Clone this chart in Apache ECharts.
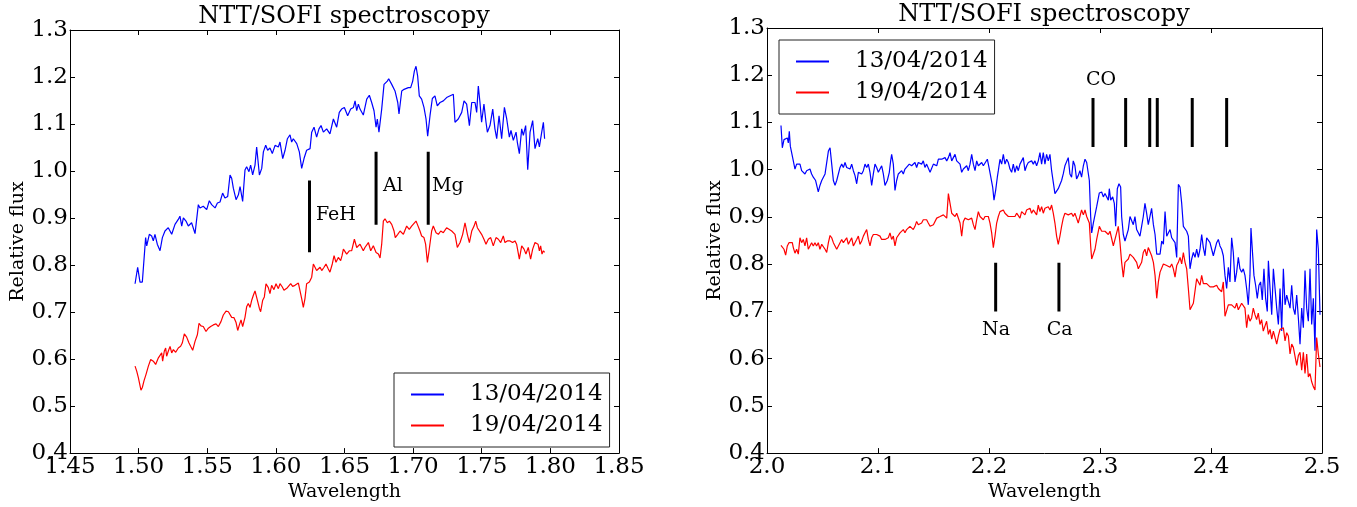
<!DOCTYPE html>
<html><head><meta charset="utf-8">
<script src="https://cdn.jsdelivr.net/npm/echarts@6/dist/echarts.min.js"></script>
<style>html,body{margin:0;padding:0;background:#fff}#c{width:1357px;height:507px}</style>
</head><body><div id="c"></div>
<script>
const seriesNames = ['13/04/2014', '19/04/2014'];
const chartTitle = 'NTT/SOFI spectroscopy';
const xName = 'Wavelength';
const yName = 'Relative flux';

// Left panel (H band)
const leftBlue = [[1.4974,0.7603],[1.4993,0.7953],[1.5010,0.7638],[1.5027,0.7638],[1.5051,0.8584],[1.5059,0.8409],[1.5078,0.8654],[1.5095,0.8619],[1.5107,0.8514],[1.5119,0.8654],[1.5136,0.8444],[1.5156,0.8304],[1.5173,0.8584],[1.5192,0.8724],[1.5216,0.8795],[1.5241,0.8654],[1.5265,0.8865],[1.5289,0.8970],[1.5301,0.9040],[1.5314,0.8830],[1.5326,0.9005],[1.5345,0.8935],[1.5362,0.8830],[1.5386,0.8900],[1.5411,0.8668],[1.5435,0.9285],[1.5447,0.9215],[1.5471,0.9250],[1.5496,0.9180],[1.5515,0.9369],[1.5532,0.9285],[1.5557,0.9215],[1.5574,0.9320],[1.5593,0.9341],[1.5612,0.9530],[1.5629,0.9425],[1.5649,0.9460],[1.5666,0.9916],[1.5678,0.9846],[1.5690,0.9636],[1.5710,0.9390],[1.5727,0.9495],[1.5739,0.9671],[1.5758,0.9355],[1.5775,1.0021],[1.5787,1.0091],[1.5804,0.9986],[1.5816,1.0126],[1.5831,0.9916],[1.5848,1.0126],[1.5860,1.0512],[1.5880,0.9916],[1.5897,1.0056],[1.5909,1.0407],[1.5926,1.0547],[1.5940,1.0442],[1.5957,1.0491],[1.5974,1.0371],[1.5994,1.0547],[1.6018,1.0512],[1.6030,1.0617],[1.6050,1.0266],[1.6067,1.0442],[1.6084,1.0687],[1.6103,1.0771],[1.6115,1.0617],[1.6127,1.0687],[1.6152,1.0582],[1.6171,1.0407],[1.6188,1.0056],[1.6205,1.0266],[1.6224,1.0442],[1.6249,1.0477],[1.6261,1.0827],[1.6278,1.0932],[1.6297,1.0722],[1.6314,1.0897],[1.6329,1.0967],[1.6346,1.0827],[1.6370,1.0897],[1.6394,1.0792],[1.6419,1.1107],[1.6443,1.0932],[1.6462,1.1248],[1.6479,1.1318],[1.6499,1.1353],[1.6523,1.1177],[1.6545,1.1318],[1.6565,1.1353],[1.6577,1.1493],[1.6589,1.1283],[1.6601,1.1423],[1.6613,1.1318],[1.6637,1.1191],[1.6662,1.1528],[1.6681,1.1612],[1.6698,1.1458],[1.6715,1.1283],[1.6730,1.0932],[1.6739,1.1107],[1.6751,1.0827],[1.6771,1.1318],[1.6788,1.1843],[1.6812,1.1913],[1.6822,1.1963],[1.6844,1.1843],[1.6868,1.1703],[1.6888,1.1458],[1.6897,1.1213],[1.6917,1.1703],[1.6934,1.1738],[1.6948,1.1703],[1.6965,1.1773],[1.6982,1.1773],[1.6997,1.1913],[1.7009,1.2124],[1.7021,1.2229],[1.7033,1.2019],[1.7045,1.1598],[1.7062,1.1528],[1.7079,1.1353],[1.7094,1.1107],[1.7106,1.0743],[1.7123,1.1177],[1.7140,1.1542],[1.7159,1.1598],[1.7176,1.1388],[1.7196,1.1458],[1.7220,1.1493],[1.7244,1.1563],[1.7293,1.1633],[1.7305,1.1037],[1.7329,1.1107],[1.7354,1.1248],[1.7371,1.1493],[1.7390,1.1423],[1.7410,1.0967],[1.7427,1.1458],[1.7451,1.1458],[1.7463,1.1248],[1.7475,1.1808],[1.7487,1.1458],[1.7499,1.1037],[1.7516,1.1423],[1.7531,1.1037],[1.7541,1.0827],[1.7560,1.0967],[1.7580,1.1318],[1.7596,1.0897],[1.7609,1.0687],[1.7626,1.1177],[1.7645,1.0687],[1.7665,1.1353],[1.7682,1.1107],[1.7701,1.0722],[1.7713,1.0862],[1.7730,1.0652],[1.7750,1.0827],[1.7759,1.0617],[1.7774,1.0371],[1.7791,1.0897],[1.7803,1.0757],[1.7820,1.0967],[1.7835,1.0026],[1.7852,1.0827],[1.7871,1.1072],[1.7888,1.0476],[1.7908,1.0687],[1.7920,1.0512],[1.7937,1.0827],[1.7949,1.1037],[1.7958,1.0687]];

const leftRed = [[1.4974,0.5850],[1.4986,0.5745],[1.4998,0.5605],[1.5010,0.5570],[1.5017,0.5339],[1.5027,0.5395],[1.5039,0.5535],[1.5054,0.5675],[1.5071,0.5850],[1.5088,0.5991],[1.5107,0.5956],[1.5124,0.5886],[1.5144,0.6026],[1.5156,0.6061],[1.5168,0.6131],[1.5175,0.5956],[1.5187,0.6166],[1.5197,0.6236],[1.5204,0.6061],[1.5216,0.6166],[1.5229,0.6271],[1.5241,0.6131],[1.5253,0.6201],[1.5270,0.6145],[1.5289,0.6236],[1.5306,0.6271],[1.5318,0.6341],[1.5333,0.6537],[1.5350,0.6467],[1.5367,0.6341],[1.5379,0.6271],[1.5394,0.6187],[1.5411,0.6376],[1.5428,0.6516],[1.5440,0.6762],[1.5454,0.6706],[1.5471,0.6692],[1.5491,0.6587],[1.5508,0.6657],[1.5525,0.6692],[1.5544,0.6727],[1.5564,0.6748],[1.5581,0.6692],[1.5600,0.6797],[1.5617,0.6937],[1.5637,0.7021],[1.5654,0.7007],[1.5666,0.6972],[1.5678,0.6888],[1.5695,0.6881],[1.5710,0.6776],[1.5722,0.6608],[1.5734,0.6727],[1.5746,0.6832],[1.5758,0.6692],[1.5775,0.6888],[1.5787,0.7112],[1.5799,0.7182],[1.5812,0.7098],[1.5824,0.7252],[1.5836,0.7358],[1.5848,0.7449],[1.5865,0.7252],[1.5880,0.7077],[1.5889,0.7007],[1.5904,0.7252],[1.5916,0.7322],[1.5928,0.7603],[1.5945,0.7519],[1.5957,0.7393],[1.5969,0.7568],[1.5986,0.7477],[1.6001,0.7603],[1.6018,0.7498],[1.6030,0.7603],[1.6047,0.7533],[1.6059,0.7463],[1.6071,0.7428],[1.6084,0.7519],[1.6096,0.7533],[1.6108,0.7603],[1.6122,0.7547],[1.6139,0.7568],[1.6152,0.7533],[1.6164,0.7617],[1.6176,0.7638],[1.6188,0.7287],[1.6200,0.7098],[1.6212,0.7287],[1.6224,0.7603],[1.6244,0.7638],[1.6261,0.7743],[1.6273,0.8023],[1.6285,0.7988],[1.6297,0.7883],[1.6309,0.7918],[1.6322,0.7953],[1.6334,0.7883],[1.6351,0.7953],[1.6365,0.8023],[1.6382,0.7918],[1.6394,0.7848],[1.6411,0.8023],[1.6424,0.8199],[1.6438,0.8058],[1.6455,0.8163],[1.6472,0.8093],[1.6482,0.8199],[1.6492,0.8339],[1.6504,0.8304],[1.6516,0.8234],[1.6535,0.8304],[1.6552,0.8304],[1.6572,0.8549],[1.6589,0.8374],[1.6613,0.8444],[1.6637,0.8304],[1.6649,0.8374],[1.6674,0.8479],[1.6691,0.8304],[1.6710,0.8409],[1.6730,0.8269],[1.6747,0.8234],[1.6759,0.8150],[1.6771,0.8444],[1.6783,0.8935],[1.6795,0.8984],[1.6812,0.8900],[1.6827,0.8935],[1.6844,0.8865],[1.6861,0.8724],[1.6870,0.8584],[1.6888,0.8654],[1.6905,0.8724],[1.6929,0.8654],[1.6953,0.8830],[1.6972,0.8759],[1.6989,0.8830],[1.7002,0.8794],[1.7021,0.8935],[1.7031,0.8865],[1.7050,0.8724],[1.7062,0.8619],[1.7079,0.8584],[1.7091,0.8444],[1.7104,0.8058],[1.7116,0.8304],[1.7135,0.8724],[1.7147,0.8830],[1.7167,0.8689],[1.7184,0.8654],[1.7201,0.8724],[1.7220,0.8689],[1.7244,0.8794],[1.7281,0.8724],[1.7305,0.8654],[1.7322,0.8374],[1.7342,0.8479],[1.7361,0.8654],[1.7378,0.8900],[1.7395,0.8654],[1.7410,0.8479],[1.7427,0.8724],[1.7444,0.8829],[1.7456,0.8935],[1.7468,0.8794],[1.7482,0.8759],[1.7499,0.8654],[1.7516,0.8549],[1.7531,0.8444],[1.7548,0.8549],[1.7565,0.8584],[1.7584,0.8409],[1.7604,0.8584],[1.7621,0.8549],[1.7638,0.8479],[1.7657,0.8619],[1.7669,0.8479],[1.7686,0.8514],[1.7706,0.8514],[1.7725,0.8479],[1.7742,0.8514],[1.7754,0.8444],[1.7774,0.8128],[1.7791,0.8409],[1.7808,0.8339],[1.7822,0.8234],[1.7839,0.8374],[1.7856,0.8128],[1.7871,0.8339],[1.7888,0.8479],[1.7900,0.8514],[1.7910,0.8444],[1.7920,0.8304],[1.7929,0.8409],[1.7939,0.8234],[1.7949,0.8304],[1.7958,0.8269]];

// Right panel (K band)
const rightBlue = [[2.0126,1.0935],[2.0138,1.0464],[2.0153,1.0637],[2.0168,1.0603],[2.0183,1.0672],[2.0192,1.0568],[2.0201,1.0811],[2.0210,1.0499],[2.0222,1.0464],[2.0237,1.0187],[2.0252,1.0014],[2.0267,1.0118],[2.0282,1.0083],[2.0297,1.0118],[2.0312,0.9979],[2.0327,1.0014],[2.0342,0.9910],[2.0357,0.9979],[2.0372,0.9945],[2.0387,1.0014],[2.0402,0.9910],[2.0417,0.9841],[2.0438,0.9771],[2.0462,0.9529],[2.0477,0.9667],[2.0493,0.9771],[2.0508,0.9841],[2.0523,0.9910],[2.0538,0.9945],[2.0553,1.0395],[2.0568,1.0464],[2.0583,1.0118],[2.0598,0.9771],[2.0613,0.9667],[2.0628,0.9771],[2.0643,0.9771],[2.0658,1.0048],[2.0673,1.0118],[2.0688,1.0048],[2.0703,1.0152],[2.0718,1.0048],[2.0733,1.0083],[2.0748,1.0014],[2.0763,1.0118],[2.0778,0.9979],[2.0793,0.9875],[2.0808,0.9702],[2.0823,0.9945],[2.0838,0.9945],[2.0853,0.9910],[2.0868,0.9979],[2.0883,1.0118],[2.0898,1.0048],[2.0913,1.0118],[2.0928,0.9945],[2.0943,0.9667],[2.0958,0.9910],[2.0973,1.0118],[2.0988,1.0048],[2.1003,0.9945],[2.1018,1.0014],[2.1033,1.0083],[2.1048,0.9910],[2.1063,0.9667],[2.1072,0.9633],[2.1084,0.9771],[2.1102,0.9945],[2.1114,1.0187],[2.1123,1.0326],[2.1138,1.0118],[2.1153,0.9563],[2.1168,0.9771],[2.1183,0.9910],[2.1198,0.9945],[2.1213,0.9979],[2.1228,0.9910],[2.1243,1.0014],[2.1258,0.9979],[2.1282,1.0118],[2.1303,1.0083],[2.1318,1.0118],[2.1333,1.0152],[2.1348,1.0048],[2.1363,1.0152],[2.1378,1.0118],[2.1393,1.0118],[2.1408,1.0187],[2.1423,1.0048],[2.1438,1.0118],[2.1469,0.9945],[2.1484,0.9979],[2.1499,1.0118],[2.1514,1.0118],[2.1529,1.0083],[2.1544,1.0222],[2.1559,1.0256],[2.1574,1.0222],[2.1589,1.0187],[2.1604,1.0256],[2.1619,1.0187],[2.1634,1.0256],[2.1649,1.0360],[2.1664,1.0187],[2.1679,1.0256],[2.1694,1.0326],[2.1709,1.0187],[2.1724,1.0187],[2.1739,1.0118],[2.1754,0.9945],[2.1769,1.0014],[2.1784,0.9979],[2.1799,1.0083],[2.1814,0.9979],[2.1829,1.0118],[2.1844,1.0326],[2.1859,1.0118],[2.1874,0.9979],[2.1889,1.0187],[2.1904,1.0083],[2.1919,1.0118],[2.1934,1.0152],[2.1949,1.0083],[2.1964,1.0118],[2.1985,1.0222],[2.2003,1.0014],[2.2015,1.0048],[2.2033,0.9633],[2.2045,0.9355],[2.2060,0.9563],[2.2075,0.9841],[2.2084,0.9979],[2.2099,1.0222],[2.2114,1.0118],[2.2129,1.0326],[2.2144,1.0118],[2.2159,1.0222],[2.2174,1.0152],[2.2189,1.0014],[2.2204,0.9945],[2.2219,1.0118],[2.2234,0.9945],[2.2249,1.0083],[2.2264,0.9979],[2.2279,1.0118],[2.2294,1.0187],[2.2309,1.0256],[2.2324,0.9979],[2.2339,1.0083],[2.2354,1.0152],[2.2369,1.0118],[2.2384,1.0187],[2.2399,1.0118],[2.2414,1.0187],[2.2429,1.0083],[2.2444,1.0187],[2.2459,1.0360],[2.2474,1.0118],[2.2489,1.0360],[2.2504,1.0118],[2.2519,1.0326],[2.2534,1.0187],[2.2549,1.0326],[2.2564,0.9979],[2.2579,0.9737],[2.2594,0.9494],[2.2609,0.9529],[2.2624,0.9598],[2.2639,0.9633],[2.2654,0.9771],[2.2669,0.9910],[2.2684,1.0083],[2.2699,1.0118],[2.2714,1.0256],[2.2729,0.9910],[2.2744,0.9841],[2.2759,1.0187],[2.2774,1.0083],[2.2789,0.9806],[2.2804,0.9875],[2.2819,0.9979],[2.2834,0.9841],[2.2850,1.0083],[2.2865,1.0222],[2.2880,1.0152],[2.2895,1.0152],[2.2904,0.9771],[2.2916,0.9009],[2.2925,0.8663],[2.2940,0.8871],[2.2955,0.9044],[2.2970,0.9217],[2.2994,0.9508],[2.3015,0.9529],[2.3030,0.9425],[2.3045,0.9494],[2.3060,0.9460],[2.3075,0.9356],[2.3084,0.9598],[2.3096,0.9356],[2.3114,0.9425],[2.3129,0.9286],[2.3141,0.8801],[2.3156,0.9598],[2.3171,0.9702],[2.3186,0.9633],[2.3195,0.9009],[2.3210,0.8628],[2.3225,0.8490],[2.3240,0.8524],[2.3255,0.8732],[2.3270,0.9009],[2.3285,0.9044],[2.3300,0.8836],[2.3315,0.9009],[2.3330,0.8732],[2.3345,0.8663],[2.3360,0.8593],[2.3375,0.8801],[2.3390,0.9009],[2.3405,0.9286],[2.3420,0.9079],[2.3435,0.8836],[2.3450,0.9009],[2.3465,0.9183],[2.3481,0.8836],[2.3496,0.8628],[2.3511,0.8212],[2.3526,0.8247],[2.3541,0.8212],[2.3556,0.8490],[2.3571,0.8420],[2.3586,0.9113],[2.3601,0.8593],[2.3616,0.8559],[2.3631,0.8732],[2.3646,0.8559],[2.3661,0.8593],[2.3676,0.8455],[2.3691,0.8143],[2.3706,0.9688],[2.3721,0.9633],[2.3736,0.9286],[2.3751,0.8801],[2.3766,0.8767],[2.3781,0.8697],[2.3796,0.8593],[2.3811,0.7901],[2.3826,0.8109],[2.3841,0.8247],[2.3856,0.8143],[2.3871,0.8316],[2.3886,0.8143],[2.3901,0.8316],[2.3916,0.8628],[2.3931,0.8351],[2.3946,0.8178],[2.3961,0.8559],[2.3976,0.8524],[2.3991,0.8455],[2.4006,0.8316],[2.4021,0.8178],[2.4036,0.8316],[2.4051,0.8455],[2.4066,0.8524],[2.4081,0.8386],[2.4096,0.8316],[2.4111,0.8178],[2.4126,0.7762],[2.4141,0.7485],[2.4156,0.7935],[2.4171,0.7624],[2.4186,0.8559],[2.4201,0.8247],[2.4216,0.7624],[2.4231,0.7831],[2.4246,0.8143],[2.4261,0.7901],[2.4276,0.7831],[2.4291,0.7901],[2.4306,0.7762],[2.4321,0.7485],[2.4336,0.7139],[2.4351,0.7762],[2.4360,0.8767],[2.4372,0.8316],[2.4387,0.7762],[2.4402,0.7554],[2.4417,0.7277],[2.4432,0.7554],[2.4447,0.7624],[2.4462,0.7243],[2.4477,0.7901],[2.4492,0.7277],[2.4507,0.7000],[2.4517,0.8074],[2.4532,0.7485],[2.4547,0.6931],[2.4562,0.7901],[2.4577,0.7485],[2.4592,0.7069],[2.4607,0.6723],[2.4622,0.7485],[2.4637,0.6584],[2.4652,0.7901],[2.4667,0.7139],[2.4682,0.7346],[2.4697,0.7208],[2.4712,0.7069],[2.4727,0.7554],[2.4742,0.7069],[2.4757,0.6931],[2.4772,0.7346],[2.4787,0.6861],[2.4802,0.6307],[2.4817,0.7069],[2.4832,0.6654],[2.4847,0.7866],[2.4862,0.7069],[2.4877,0.6792],[2.4892,0.7901],[2.4907,0.6723],[2.4922,0.7277],[2.4937,0.6169],[2.4952,0.8732],[2.4967,0.8316],[2.4982,0.6931]];

const rightRed = [[2.0126,0.8400],[2.0138,0.8386],[2.0153,0.8316],[2.0168,0.8192],[2.0183,0.8386],[2.0198,0.8455],[2.0213,0.8420],[2.0228,0.8455],[2.0237,0.8351],[2.0252,0.8233],[2.0267,0.8316],[2.0282,0.8212],[2.0297,0.8559],[2.0312,0.8455],[2.0327,0.8524],[2.0342,0.8386],[2.0357,0.8559],[2.0372,0.8316],[2.0387,0.8282],[2.0402,0.8455],[2.0417,0.8386],[2.0432,0.8455],[2.0447,0.8386],[2.0462,0.8455],[2.0477,0.8316],[2.0493,0.8420],[2.0508,0.8386],[2.0523,0.8316],[2.0538,0.8247],[2.0553,0.8455],[2.0568,0.8607],[2.0583,0.8559],[2.0598,0.8455],[2.0613,0.8386],[2.0628,0.8316],[2.0643,0.8282],[2.0658,0.8455],[2.0673,0.8524],[2.0688,0.8455],[2.0703,0.8490],[2.0718,0.8559],[2.0733,0.8420],[2.0748,0.8455],[2.0763,0.8559],[2.0778,0.8386],[2.0793,0.8455],[2.0808,0.8524],[2.0823,0.8594],[2.0838,0.8420],[2.0853,0.8490],[2.0868,0.8594],[2.0883,0.8663],[2.0898,0.8732],[2.0913,0.8524],[2.0928,0.8386],[2.0943,0.8559],[2.0958,0.8628],[2.0973,0.8594],[2.0988,0.8628],[2.1003,0.8594],[2.1018,0.8594],[2.1033,0.8524],[2.1048,0.8559],[2.1063,0.8524],[2.1078,0.8490],[2.1093,0.8559],[2.1108,0.8663],[2.1123,0.8524],[2.1138,0.8594],[2.1153,0.8386],[2.1168,0.8559],[2.1183,0.8594],[2.1198,0.8663],[2.1213,0.8628],[2.1228,0.8732],[2.1243,0.8663],[2.1258,0.8732],[2.1273,0.8732],[2.1288,0.8801],[2.1303,0.8836],[2.1318,0.8732],[2.1333,0.8801],[2.1348,0.8905],[2.1363,0.8836],[2.1378,0.8801],[2.1393,0.8871],[2.1408,0.8940],[2.1423,0.8905],[2.1438,0.8940],[2.1453,0.8871],[2.1469,0.8801],[2.1484,0.8836],[2.1499,0.8836],[2.1514,0.8801],[2.1529,0.8975],[2.1544,0.9009],[2.1559,0.9009],[2.1574,0.8975],[2.1589,0.9044],[2.1604,0.9009],[2.1619,0.8975],[2.1634,0.9494],[2.1649,0.9286],[2.1664,0.9079],[2.1679,0.9113],[2.1694,0.9009],[2.1709,0.9079],[2.1724,0.9044],[2.1739,0.8871],[2.1754,0.8594],[2.1769,0.8905],[2.1784,0.8975],[2.1799,0.8940],[2.1814,0.8940],[2.1829,0.8905],[2.1844,0.8975],[2.1859,0.8836],[2.1874,0.8732],[2.1889,0.8940],[2.1904,0.9113],[2.1919,0.9009],[2.1934,0.8975],[2.1949,0.8940],[2.1964,0.9009],[2.1979,0.8975],[2.1994,0.9009],[2.2009,0.8871],[2.2024,0.8663],[2.2039,0.8351],[2.2054,0.8594],[2.2069,0.8871],[2.2084,0.9009],[2.2099,0.9113],[2.2114,0.9148],[2.2129,0.9148],[2.2144,0.9079],[2.2159,0.9044],[2.2174,0.9009],[2.2189,0.9044],[2.2204,0.9009],[2.2219,0.8975],[2.2234,0.9009],[2.2249,0.9079],[2.2264,0.9079],[2.2279,0.8975],[2.2294,0.9113],[2.2309,0.9079],[2.2324,0.9044],[2.2339,0.9148],[2.2354,0.9113],[2.2369,0.9183],[2.2384,0.9079],[2.2399,0.9148],[2.2414,0.9113],[2.2429,0.9044],[2.2444,0.9252],[2.2459,0.9113],[2.2474,0.9217],[2.2489,0.9079],[2.2504,0.9183],[2.2519,0.9148],[2.2534,0.9217],[2.2549,0.9148],[2.2564,0.9252],[2.2579,0.9079],[2.2594,0.8871],[2.2609,0.8594],[2.2624,0.8420],[2.2639,0.8594],[2.2654,0.8801],[2.2669,0.8975],[2.2684,0.9079],[2.2699,0.9079],[2.2714,0.9044],[2.2729,0.9044],[2.2744,0.9079],[2.2759,0.9009],[2.2774,0.9079],[2.2789,0.8975],[2.2804,0.8871],[2.2819,0.9009],[2.2834,0.9148],[2.2850,0.9044],[2.2865,0.9148],[2.2880,0.9009],[2.2895,0.9044],[2.2904,0.8871],[2.2916,0.8386],[2.2925,0.8109],[2.2940,0.8074],[2.2955,0.8316],[2.2970,0.8524],[2.2994,0.8801],[2.3015,0.8697],[2.3030,0.8663],[2.3045,0.8697],[2.3060,0.8697],[2.3075,0.8628],[2.3090,0.8697],[2.3105,0.8663],[2.3120,0.8386],[2.3135,0.8524],[2.3150,0.8559],[2.3165,0.8801],[2.3180,0.8455],[2.3195,0.8039],[2.3210,0.7727],[2.3225,0.8039],[2.3240,0.8074],[2.3255,0.8109],[2.3270,0.8212],[2.3285,0.8178],[2.3300,0.8143],[2.3315,0.8109],[2.3330,0.8039],[2.3345,0.7901],[2.3360,0.7866],[2.3375,0.8039],[2.3390,0.8247],[2.3405,0.8316],[2.3420,0.8178],[2.3435,0.8351],[2.3450,0.8386],[2.3465,0.8178],[2.3481,0.8039],[2.3496,0.7762],[2.3511,0.7277],[2.3526,0.7624],[2.3541,0.7831],[2.3556,0.7831],[2.3571,0.8005],[2.3586,0.8005],[2.3601,0.7970],[2.3616,0.7970],[2.3631,0.7935],[2.3646,0.8005],[2.3661,0.7901],[2.3676,0.7727],[2.3691,0.7970],[2.3706,0.8039],[2.3721,0.8143],[2.3736,0.8005],[2.3751,0.8247],[2.3766,0.8039],[2.3781,0.7901],[2.3796,0.7485],[2.3811,0.7035],[2.3826,0.7000],[2.3841,0.7173],[2.3856,0.7208],[2.3871,0.7693],[2.3886,0.7727],[2.3901,0.7554],[2.3916,0.7762],[2.3931,0.7589],[2.3946,0.7554],[2.3961,0.7589],[2.3976,0.7554],[2.3991,0.7520],[2.4006,0.7554],[2.4021,0.7520],[2.4036,0.7485],[2.4051,0.7554],[2.4066,0.7485],[2.4081,0.7450],[2.4096,0.7416],[2.4111,0.7624],[2.4126,0.6896],[2.4141,0.6931],[2.4156,0.7139],[2.4171,0.7104],[2.4186,0.7139],[2.4201,0.7173],[2.4216,0.7069],[2.4231,0.7173],[2.4246,0.7035],[2.4261,0.7069],[2.4276,0.7173],[2.4291,0.7208],[2.4306,0.7069],[2.4321,0.6654],[2.4336,0.6931],[2.4351,0.6792],[2.4366,0.6861],[2.4381,0.7069],[2.4396,0.6931],[2.4411,0.6827],[2.4426,0.6965],[2.4441,0.6723],[2.4456,0.6827],[2.4471,0.6584],[2.4486,0.6688],[2.4501,0.6792],[2.4517,0.6515],[2.4532,0.6619],[2.4547,0.6411],[2.4562,0.6584],[2.4577,0.6550],[2.4592,0.6307],[2.4607,0.6480],[2.4622,0.6619],[2.4637,0.6654],[2.4652,0.6654],[2.4667,0.6377],[2.4682,0.6550],[2.4697,0.6480],[2.4712,0.6099],[2.4727,0.6307],[2.4742,0.6238],[2.4757,0.6203],[2.4772,0.5857],[2.4787,0.6065],[2.4802,0.6134],[2.4817,0.5753],[2.4832,0.6134],[2.4847,0.5684],[2.4862,0.6099],[2.4877,0.5614],[2.4892,0.5684],[2.4907,0.5510],[2.4922,0.5407],[2.4937,0.5337],[2.4952,0.6446],[2.4967,0.6099],[2.4982,0.5822]];

// Line identifications: [label, wavelength, y bottom, y top]
const leftLines = [['FeH',1.6245,0.827,0.980],['Al',1.6730,0.886,1.041],['Mg',1.7110,0.886,1.041]];
// label anchor: [label, x, y]
const leftLineLabels = [['FeH',1.6292,0.907],['Al',1.6781,0.968],['Mg',1.7138,0.968]];
const rightLines = [['Na',2.2060,0.700,0.803],['Ca',2.2630,0.700,0.803],['CO',2.2937,1.048,1.152],['CO',2.3231,1.048,1.152],['CO',2.3448,1.048,1.152],['CO',2.3516,1.048,1.152],['CO',2.3831,1.048,1.152],['CO',2.4141,1.048,1.152]];
const rightLineLabels = [['Na',2.2063,0.660],['Ca',2.2637,0.660],['CO',2.3009,1.190]];

const FONT = '"DejaVu Serif"';
const BLACK = '#000';

function axisPair(gridIndex, min, max, interval, dec, isX, nameGap) {
  const common = {
    type: 'value', gridIndex, min, max, interval,
    axisLine: { show: true, onZero: false, lineStyle: { color: BLACK, width: 1 } },
    axisTick: { show: true, inside: true, length: 5, lineStyle: { color: BLACK, width: 1 } },
    splitLine: { show: false }
  };
  const main = Object.assign({}, common, {
    position: isX ? 'bottom' : 'left',
    axisLabel: { show: true, margin: 2, fontSize: 23, fontFamily: FONT, color: BLACK,
      formatter: v => v.toFixed(dec), showMinLabel: true, showMaxLabel: true },
    name: isX ? xName : yName, nameLocation: 'middle', nameGap,
    nameTextStyle: { fontSize: 19, fontFamily: FONT, color: BLACK }
  });
  const mirror = Object.assign({}, common, {
    position: isX ? 'top' : 'right',
    axisLabel: { show: false }
  });
  return [main, mirror];
}

const xAxes = [...axisPair(0, 1.45, 1.85, 0.05, 2, true, 26), ...axisPair(1, 2.0, 2.5, 0.1, 1, true, 27)];
const yAxes = [...axisPair(0, 0.4, 1.3, 0.1, 1, false, 34), ...axisPair(1, 0.4, 1.3, 0.1, 1, false, 40)];

function dataSeries(name, data, color, xi, yi) {
  return { type: 'line', name, data, xAxisIndex: xi, yAxisIndex: yi, symbol: 'none',
    lineStyle: { color, width: 1.2 }, itemStyle: { color }, z: 3, silent: true };
}
function markLines(lines, xi, yi) {
  return lines.map(l => ({ type: 'line', data: [[l[1], l[2]], [l[1], l[3]]], xAxisIndex: xi, yAxisIndex: yi,
    symbol: 'none', lineStyle: { color: BLACK, width: 3 }, z: 4, silent: true }));
}
function markLabels(labels, xi, yi, pos) {
  return { type: 'scatter', xAxisIndex: xi, yAxisIndex: yi, symbol: 'circle', symbolSize: 0, silent: true,
    itemStyle: { color: BLACK, opacity: 1 },
    data: labels.map(l => ({ value: [l[1], l[2]], name: l[0] })),
    label: { show: true, position: pos, distance: 0, formatter: p => p.name, fontSize: 19, fontFamily: FONT,
      color: BLACK, opacity: 1, textBorderWidth: 0 }, z: 5 };
}

function legendAt(left, top) {
  return { data: seriesNames, orient: 'vertical', left, top, itemWidth: 33, itemHeight: 14, itemGap: 8,
    padding: [10, 7, 10, 16], borderColor: '#222', borderWidth: 1, backgroundColor: '#fff',
    selectedMode: false, itemStyle: { opacity: 0 },
    textStyle: { fontSize: 23, fontFamily: FONT, color: BLACK, padding: [0, 0, 0, 21] } };
}

const chart = echarts.init(document.getElementById('c'));
chart.setOption({
  animation: false,
  backgroundColor: '#fff',
  grid: [
    { left: 70, top: 30, width: 549, height: 428 },
    { left: 767, top: 28, width: 555, height: 433 }
  ],
  xAxis: xAxes,
  yAxis: yAxes,
  legend: [legendAt(394, 373), legendAt(779, 40)],
  graphic: [
    { type: 'text', x: 344, y: 17, style: { text: chartTitle, font: '24px ' + FONT, fill: BLACK, align: 'center', verticalAlign: 'middle', textAlign: 'center', textVerticalAlign: 'middle' } },
    { type: 'text', x: 1044, y: 15, style: { text: chartTitle, font: '24px ' + FONT, fill: BLACK, align: 'center', verticalAlign: 'middle', textAlign: 'center', textVerticalAlign: 'middle' } }
  ],
  series: [
    dataSeries(seriesNames[0], leftBlue, '#0000ff', 0, 0),
    dataSeries(seriesNames[1], leftRed, '#ff0000', 0, 0),
    dataSeries(seriesNames[0], rightBlue, '#0000ff', 2, 2),
    dataSeries(seriesNames[1], rightRed, '#ff0000', 2, 2),
    ...markLines(leftLines, 0, 0),
    ...markLines(rightLines, 2, 2),
    markLabels(leftLineLabels, 0, 0, 'right'),
    markLabels(rightLineLabels, 2, 2, 'inside')
  ]
});
</script>
</body></html>
